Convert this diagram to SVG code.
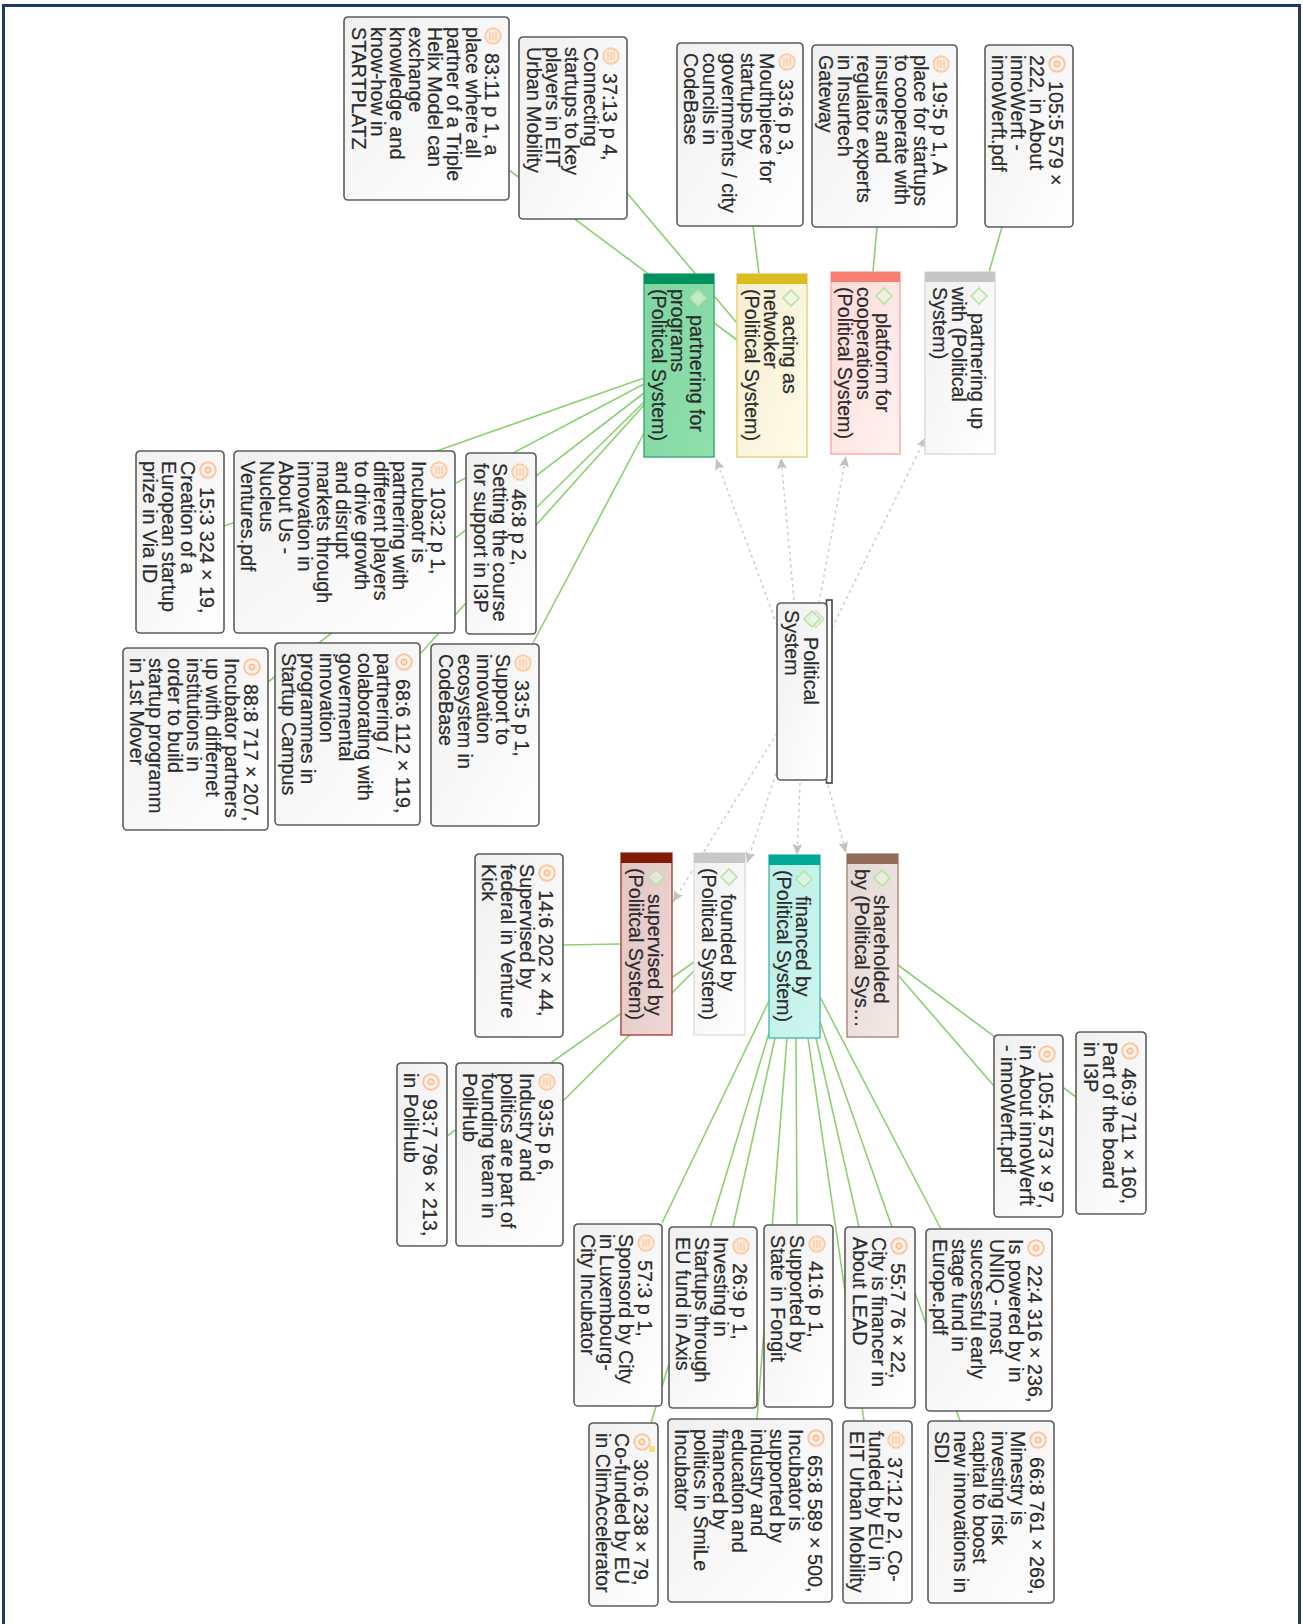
<svg xmlns="http://www.w3.org/2000/svg" width="1303" height="1624" viewBox="0 0 1303 1624">
<style>
text{font-family:"Liberation Sans",Arial,sans-serif;font-size:19.7px;fill:#2b2b2b;stroke:#2b2b2b;stroke-width:.2}
.g{stroke:#8bd170;stroke-width:1.6;fill:none}
.d{stroke:#cdcdcd;stroke-width:1.5;stroke-dasharray:3 3.5;fill:none;marker-end:url(#arr)}
.note{fill:url(#gn);stroke:#5c5c5c;stroke-width:1.6}
.b{stroke-width:1.5}
</style>
<defs>
<marker id="arr" markerUnits="userSpaceOnUse" markerWidth="12" markerHeight="10" refX="11" refY="5" orient="auto"><path d="M0 0L11 5L0 10L2 5Z" fill="#c2c2c2"/></marker>
<linearGradient id="gn" x1="0" y1="1" x2="1" y2="0"><stop offset="0" stop-color="#f0f0f0"/><stop offset="1" stop-color="#fff"/></linearGradient>
<linearGradient id="g1" x1="0" y1="1" x2="1" y2="0"><stop offset="0" stop-color="#7fd5a1"/><stop offset="1" stop-color="#8fe0ab"/></linearGradient>
<linearGradient id="g2" x1="0" y1="1" x2="1" y2="0"><stop offset="0" stop-color="#f5edcf"/><stop offset="1" stop-color="#fffce9"/></linearGradient>
<linearGradient id="g3" x1="0" y1="1" x2="1" y2="0"><stop offset="0" stop-color="#fdd9d5"/><stop offset="1" stop-color="#fff3f1"/></linearGradient>
<linearGradient id="g4" x1="0" y1="1" x2="1" y2="0"><stop offset="0" stop-color="#e2c6c3"/><stop offset="1" stop-color="#eed7d4"/></linearGradient>
<linearGradient id="g5" x1="0" y1="1" x2="1" y2="0"><stop offset="0" stop-color="#bdeee6"/><stop offset="1" stop-color="#cdf6f0"/></linearGradient>
<linearGradient id="g6" x1="0" y1="1" x2="1" y2="0"><stop offset="0" stop-color="#e4d7d2"/><stop offset="1" stop-color="#f3e9e6"/></linearGradient>
<g id="ti"><circle r="7.8" fill="#fdebdc" stroke="#fbcdaa" stroke-width="1.9"/><path d="M-4-3H4M-4 0H4M-4 3H4" stroke="#fac9a5" stroke-width="1.3"/></g>
<g id="ii"><circle r="7.8" fill="#fff3ea" stroke="#fdc4a0" stroke-width="1.9"/><circle r="2.8" fill="#fde4d0" stroke="#fcb98c" stroke-width="1.4"/></g>
<polygon id="dm" points="-8,0 0,-8 8,0 0,8" fill="#e8f6e2" fill-opacity=".6" stroke="#b7e3a4" stroke-width="1.6"/>
</defs>
<path id="frame" d="M3.500 1624V5.500H1299.500V1624" fill="none" stroke="#1f3864" stroke-width="3"/>
<g id="connectors">
<path class="g" d="M509 170L737 340"/>
<path class="g" d="M627 193L737 323"/>
<path class="g" d="M753 226L759 274"/>
<path class="g" d="M877 227L873 272"/>
<path class="g" d="M1002 227L989 272"/>
<path class="g" d="M644 378L224 526"/>
<path class="g" d="M644 384L456 483"/>
<path class="g" d="M644 393L268 682"/>
<path class="g" d="M644 402L537 507"/>
<path class="g" d="M644 405L421 653"/>
<path class="g" d="M644 433L533 643"/>
<path class="g" d="M563 945L621 944"/>
<path class="g" d="M694 962L447 1136"/>
<path class="g" d="M694 971L563 1101"/>
<path class="g" d="M769 1001L662 1223"/>
<path class="g" d="M769 1033L651 1423"/>
<path class="g" d="M775 1038L733 1227"/>
<path class="g" d="M787 1038L757 1419"/>
<path class="g" d="M796 1038L797 1225"/>
<path class="g" d="M808 1038L864 1421"/>
<path class="g" d="M816 1038L859 1227"/>
<path class="g" d="M820 1022L960 1421"/>
<path class="g" d="M820 997L941 1229"/>
<path class="g" d="M898 965L1076 1097"/>
<path class="g" d="M898 975L994 1086"/>
<path class="d" d="M777 625L716 459"/>
<path class="d" d="M794 600L781 458"/>
<path class="d" d="M819 603L846 456"/>
<path class="d" d="M832 628L926 437"/>
<path class="d" d="M777 733L673 902"/>
<path class="d" d="M776 773L747 863"/>
<path class="d" d="M800 783L797 855"/>
<path class="d" d="M828 785L846 853"/>
</g>
<g id="n-political" transform="translate(827 603) rotate(90)"><rect x="-3" y="-5" width="183" height="5.500" fill="#fff" stroke="#444" stroke-width="1.6"/><rect class="note" width="177" height="50" rx="4"/><use href="#dm" x="16" y="11" opacity=".7"/><use href="#dm" x="16" y="15"/><text y="23"><tspan x="34">Political</tspan><tspan x="7" dy="19">System</tspan></text></g>
<g id="n-programs" transform="translate(714 274) rotate(90)"><rect class="b" width="183" height="70" fill="url(#g1)" stroke="#3fae78"/><rect width="10" height="70" fill="#009161"/><use href="#dm" x="24" y="16"/><text y="24"><tspan x="41">partnering for</tspan><tspan x="15" dy="19">programs</tspan><tspan x="15" dy="19">(Political System)</tspan></text></g>
<g id="n-networker" transform="translate(807 274) rotate(90)"><rect class="b" width="183" height="70" fill="url(#g2)" stroke="#e9d277"/><rect width="10" height="70" fill="#dcbc1f"/><use href="#dm" x="24" y="16"/><text y="24"><tspan x="41">acting as</tspan><tspan x="15" dy="19">netwoker</tspan><tspan x="15" dy="19">(Political System)</tspan></text></g>
<g id="n-cooperations" transform="translate(900 272) rotate(90)"><rect class="b" width="182" height="69" fill="url(#g3)" stroke="#fbaea6"/><rect width="10" height="69" fill="#f77e70"/><use href="#dm" x="24" y="16"/><text y="24"><tspan x="41">platform for</tspan><tspan x="15" dy="19">cooperations</tspan><tspan x="15" dy="19">(Political System)</tspan></text></g>
<g id="n-partnerup" transform="translate(995 272) rotate(90)"><rect class="b" width="182" height="70" fill="url(#gn)" stroke="#dcdcdc"/><rect width="10" height="70" fill="#c6c6c6"/><use href="#dm" x="24" y="16"/><text y="24"><tspan x="41">partnering up</tspan><tspan x="15" dy="19">with (Political</tspan><tspan x="15" dy="19">System)</tspan></text></g>
<g id="n-supervised" transform="translate(672 853) rotate(90)"><rect class="b" width="182" height="51" fill="url(#g4)" stroke="#a94d42"/><rect width="10" height="51" fill="#811b05"/><use href="#dm" x="24" y="16"/><text y="24"><tspan x="41">supervised by</tspan><tspan x="15" dy="19">(Poliitcal System)</tspan></text></g>
<g id="n-founded" transform="translate(745 853) rotate(90)"><rect class="b" width="182" height="51" fill="url(#gn)" stroke="#e0e0e0"/><rect width="10" height="51" fill="#c8c8c8"/><use href="#dm" x="24" y="16"/><text y="24"><tspan x="41">founded by</tspan><tspan x="15" dy="19">(Political System)</tspan></text></g>
<g id="n-financed" transform="translate(820 855) rotate(90)"><rect class="b" width="183" height="51" fill="url(#g5)" stroke="#52bfb2"/><rect width="10" height="51" fill="#00a997"/><use href="#dm" x="24" y="16"/><text y="24"><tspan x="41">financed by</tspan><tspan x="15" dy="19">(Political System)</tspan></text></g>
<g id="n-shareholded" transform="translate(898 854) rotate(90)"><rect class="b" width="183" height="51" fill="url(#g6)" stroke="#ae8c80"/><rect width="10" height="51" fill="#93695a"/><use href="#dm" x="24" y="16"/><text y="24"><tspan x="41">shareholded</tspan><tspan x="15" dy="19">by (Political Sys…</tspan></text></g>
<g id="q83-11" transform="translate(509 17) rotate(90)"><rect class="note" width="183" height="165" rx="4"/><use href="#ti" x="19" y="16"/><text y="24"><tspan x="36">83:11 p 1, a</tspan><tspan x="10" dy="19">place where all</tspan><tspan x="10" dy="19">partner of a Triple</tspan><tspan x="10" dy="19">Helix Model can</tspan><tspan x="10" dy="19">exchange</tspan><tspan x="10" dy="19">knowledge and</tspan><tspan x="10" dy="19">know-how in</tspan><tspan x="10" dy="19">STARTPLATZ</tspan></text></g>
<g id="q37-13" transform="translate(627 37) rotate(90)"><rect class="note" width="182" height="108" rx="4"/><use href="#ti" x="19" y="16"/><text y="24"><tspan x="36">37:13 p 4,</tspan><tspan x="10" dy="19">Connecting</tspan><tspan x="10" dy="19">startups to key</tspan><tspan x="10" dy="19">players in EIT</tspan><tspan x="10" dy="19">Urban Mobility</tspan></text></g>
<g id="q33-6" transform="translate(803 43) rotate(90)"><rect class="note" width="183" height="126" rx="4"/><use href="#ti" x="19" y="16"/><text y="24"><tspan x="36">33:6 p 3,</tspan><tspan x="10" dy="19">Mouthpiece for</tspan><tspan x="10" dy="19">startups by</tspan><tspan x="10" dy="19">governments / city</tspan><tspan x="10" dy="19">councils in</tspan><tspan x="10" dy="19">CodeBase</tspan></text></g>
<g id="q19-5" transform="translate(957 45) rotate(90)"><rect class="note" width="182" height="145" rx="4"/><use href="#ti" x="19" y="16"/><text y="24"><tspan x="36">19:5 p 1, A</tspan><tspan x="10" dy="19">place for startups</tspan><tspan x="10" dy="19">to cooperate with</tspan><tspan x="10" dy="19">insurers and</tspan><tspan x="10" dy="19">regulator experts</tspan><tspan x="10" dy="19">in Insurtech</tspan><tspan x="10" dy="19">Gateway</tspan></text></g>
<g id="q105-5" transform="translate(1073 45) rotate(90)"><rect class="note" width="182" height="88" rx="4"/><use href="#ii" x="19" y="16"/><text y="24"><tspan x="36">105:5 579 ×</tspan><tspan x="10" dy="19">222, in About</tspan><tspan x="10" dy="19">innoWerft -</tspan><tspan x="10" dy="19">innoWerft.pdf</tspan></text></g>
<g id="q15-3" transform="translate(224 451) rotate(90)"><rect class="note" width="182" height="88" rx="4"/><use href="#ii" x="19" y="16"/><text y="24"><tspan x="36">15:3 324 × 19,</tspan><tspan x="10" dy="19">Creation of a</tspan><tspan x="10" dy="19">European startup</tspan><tspan x="10" dy="19">prize in Via ID</tspan></text></g>
<g id="q103-2" transform="translate(455 451) rotate(90)"><rect class="note" width="182" height="221" rx="4"/><use href="#ti" x="19" y="16"/><text y="24"><tspan x="36">103:2 p 1,</tspan><tspan x="10" dy="19">Incubaotr is</tspan><tspan x="10" dy="19">partnering with</tspan><tspan x="10" dy="19">different players</tspan><tspan x="10" dy="19">to drive growth</tspan><tspan x="10" dy="19">and disrupt</tspan><tspan x="10" dy="19">markets through</tspan><tspan x="10" dy="19">innovation in</tspan><tspan x="10" dy="19">About Us -</tspan><tspan x="10" dy="19">Nucleus</tspan><tspan x="10" dy="19">Ventures.pdf</tspan></text></g>
<g id="q46-8" transform="translate(536 453) rotate(90)"><rect class="note" width="181" height="70" rx="4"/><use href="#ti" x="19" y="16"/><text y="24"><tspan x="36">46:8 p 2,</tspan><tspan x="10" dy="19">Setting the course</tspan><tspan x="10" dy="19">for support in I3P</tspan></text></g>
<g id="q88-8" transform="translate(268 648) rotate(90)"><rect class="note" width="182" height="145" rx="4"/><use href="#ii" x="19" y="16"/><text y="24"><tspan x="36">88:8 717 × 207,</tspan><tspan x="10" dy="19">Incubator partners</tspan><tspan x="10" dy="19">up with differnet</tspan><tspan x="10" dy="19">institutions in</tspan><tspan x="10" dy="19">order to build</tspan><tspan x="10" dy="19">startup programm</tspan><tspan x="10" dy="19">in 1st Mover</tspan></text></g>
<g id="q68-6" transform="translate(420 643) rotate(90)"><rect class="note" width="182" height="145" rx="4"/><use href="#ii" x="19" y="16"/><text y="24"><tspan x="36">68:6 112 × 119,</tspan><tspan x="10" dy="19">partnering /</tspan><tspan x="10" dy="19">colaborating with</tspan><tspan x="10" dy="19">govermental</tspan><tspan x="10" dy="19">innovation</tspan><tspan x="10" dy="19">programmes in</tspan><tspan x="10" dy="19">Startup Campus</tspan></text></g>
<g id="q33-5" transform="translate(539 644) rotate(90)"><rect class="note" width="182" height="108" rx="4"/><use href="#ti" x="19" y="16"/><text y="24"><tspan x="36">33:5 p 1,</tspan><tspan x="10" dy="19">Support to</tspan><tspan x="10" dy="19">innovation</tspan><tspan x="10" dy="19">ecosystem in</tspan><tspan x="10" dy="19">CodeBase</tspan></text></g>
<g id="q14-6" transform="translate(563 854) rotate(90)"><rect class="note" width="183" height="88" rx="4"/><use href="#ii" x="19" y="16"/><text y="24"><tspan x="36">14:6 202 × 44,</tspan><tspan x="10" dy="19">Supervised by</tspan><tspan x="10" dy="19">federal in Venture</tspan><tspan x="10" dy="19">Kick</tspan></text></g>
<g id="q93-7" transform="translate(447 1063) rotate(90)"><rect class="note" width="183" height="50" rx="4"/><use href="#ii" x="19" y="16"/><text y="24"><tspan x="36">93:7 796 × 213,</tspan><tspan x="10" dy="19">in PoliHub</tspan></text></g>
<g id="q93-5" transform="translate(563 1063) rotate(90)"><rect class="note" width="183" height="107" rx="4"/><use href="#ti" x="19" y="16"/><text y="24"><tspan x="36">93:5 p 6,</tspan><tspan x="10" dy="19">Industry and</tspan><tspan x="10" dy="19">politics are part of</tspan><tspan x="10" dy="19">founding team in</tspan><tspan x="10" dy="19">PoliHub</tspan></text></g>
<g id="q105-4" transform="translate(1063 1035) rotate(90)"><rect class="note" width="182" height="69" rx="4"/><use href="#ii" x="19" y="16"/><text y="24"><tspan x="36">105:4 573 × 97,</tspan><tspan x="10" dy="19">in About innoWerft</tspan><tspan x="10" dy="19">- innoWerft.pdf</tspan></text></g>
<g id="q46-9" transform="translate(1146 1032) rotate(90)"><rect class="note" width="182" height="70" rx="4"/><use href="#ii" x="19" y="16"/><text y="24"><tspan x="36">46:9 711 × 160,</tspan><tspan x="10" dy="19">Part of the board</tspan><tspan x="10" dy="19">in I3P</tspan></text></g>
<g id="q57-3" transform="translate(662 1224) rotate(90)"><rect class="note" width="182" height="88" rx="4"/><use href="#ti" x="19" y="16"/><text y="24"><tspan x="36">57:3 p 1,</tspan><tspan x="10" dy="19">Sponsord by City</tspan><tspan x="10" dy="19">in Luxembourg-</tspan><tspan x="10" dy="19">City Incubator</tspan></text></g>
<g id="q26-9" transform="translate(757 1227) rotate(90)"><rect class="note" width="181" height="88" rx="4"/><use href="#ti" x="19" y="16"/><text y="24"><tspan x="36">26:9 p 1,</tspan><tspan x="10" dy="19">Investing in</tspan><tspan x="10" dy="19">Startups through</tspan><tspan x="10" dy="19">EU fund in Axis</tspan></text></g>
<g id="q41-6" transform="translate(833 1225) rotate(90)"><rect class="note" width="182" height="69" rx="4"/><use href="#ti" x="19" y="16"/><text y="24"><tspan x="36">41:6 p 1,</tspan><tspan x="10" dy="19">Supported by</tspan><tspan x="10" dy="19">State in Fongit</tspan></text></g>
<g id="q55-7" transform="translate(915 1227) rotate(90)"><rect class="note" width="181" height="70" rx="4"/><use href="#ii" x="19" y="16"/><text y="24"><tspan x="36">55:7 76 × 22,</tspan><tspan x="10" dy="19">City is financer in</tspan><tspan x="10" dy="19">About LEAD</tspan></text></g>
<g id="q22-4" transform="translate(1052 1229) rotate(90)"><rect class="note" width="182" height="126" rx="4"/><use href="#ii" x="19" y="16"/><text y="24"><tspan x="36">22:4 316 × 236,</tspan><tspan x="10" dy="19">Is powered by in</tspan><tspan x="10" dy="19">UNIIQ - most</tspan><tspan x="10" dy="19">successful early</tspan><tspan x="10" dy="19">stage fund in</tspan><tspan x="10" dy="19">Europe.pdf</tspan></text></g>
<g id="q30-6" transform="translate(658 1423) rotate(90)"><rect class="note" width="183" height="69" rx="4"/><use href="#ii" x="19" y="16"/><rect x="23" y="3" width="6" height="6" fill="#fbdf7e"/><text y="24"><tspan x="36">30:6 238 × 79,</tspan><tspan x="10" dy="19">Co-funded by EU</tspan><tspan x="10" dy="19">in ClimAccelerator</tspan></text></g>
<g id="q65-8" transform="translate(832 1419) rotate(90)"><rect class="note" width="183" height="164" rx="4"/><use href="#ii" x="19" y="16"/><text y="24"><tspan x="36">65:8 589 × 500,</tspan><tspan x="10" dy="19">Incubator is</tspan><tspan x="10" dy="19">supported by</tspan><tspan x="10" dy="19">industry and</tspan><tspan x="10" dy="19">education and</tspan><tspan x="10" dy="19">financed by</tspan><tspan x="10" dy="19">politics in SmiLe</tspan><tspan x="10" dy="19">Incubator</tspan></text></g>
<g id="q37-12" transform="translate(912 1421) rotate(90)"><rect class="note" width="182" height="69" rx="4"/><use href="#ti" x="19" y="16"/><text y="24"><tspan x="36">37:12 p 2, Co-</tspan><tspan x="10" dy="19">funded by EU in</tspan><tspan x="10" dy="19">EIT Urban Mobility</tspan></text></g>
<g id="q66-8" transform="translate(1054 1421) rotate(90)"><rect class="note" width="182" height="126" rx="4"/><use href="#ii" x="19" y="16"/><text y="24"><tspan x="36">66:8 761 × 269,</tspan><tspan x="10" dy="19">Minestry is</tspan><tspan x="10" dy="19">investing risk</tspan><tspan x="10" dy="19">capital to boost</tspan><tspan x="10" dy="19">new innovations in</tspan><tspan x="10" dy="19">SDI</tspan></text></g>
</svg>
